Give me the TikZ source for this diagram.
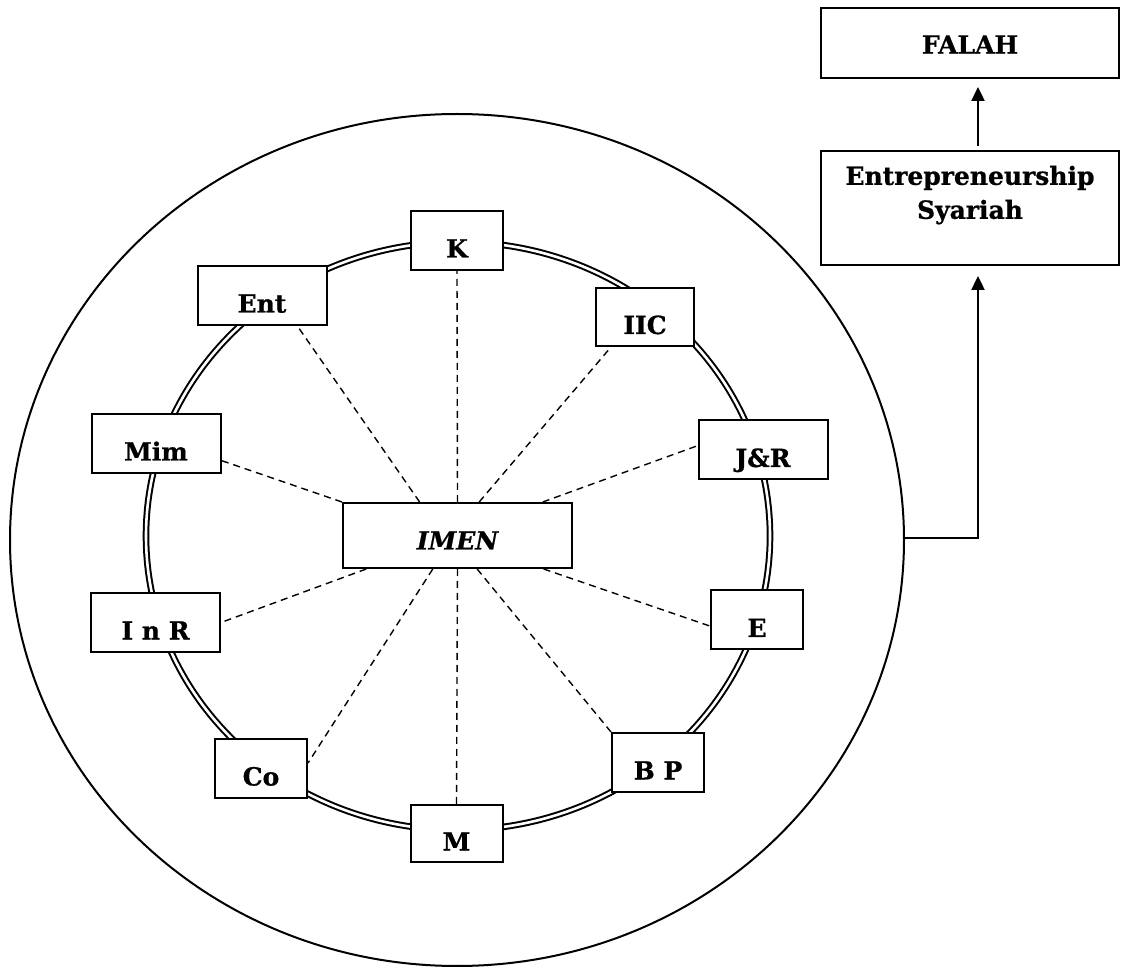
\documentclass[tikz,border=0pt]{standalone}
\usepackage{fontspec}
\setmainfont{DejaVu Serif}[BoldFeatures={FakeBold=0.8},BoldItalicFeatures={FakeBold=0.8}]
\usetikzlibrary{arrows.meta,calc}

% raise a block of text without changing the space it takes
\newcommand{\liftby}[2]{\raisebox{#1}[\height][\depth]{#2}}

\begin{document}
\begin{tikzpicture}[x=0.5pt,y=-0.5pt,
  labelfont/.style={font=\bfseries\fontsize{12.5}{17}\selectfont},
  tag/.style={draw,line width=1pt,fill=white,inner sep=0pt,labelfont,
    text height=17pt,text depth=0pt},
  smalltag/.style={tag,minimum width=46pt,minimum height=29.5pt},
  widetag/.style={tag,minimum width=64.5pt,minimum height=29.5pt},
  ray/.style={line width=0.7pt,dash pattern=on 3.5pt off 2.5pt},
  flow/.style={line width=1.2pt,-{Triangle[length=7pt,width=6.5pt]}},
  ring/.style={double,line width=1pt,double distance=1.3pt}]

\useasboundingbox (0,0) rectangle (1121,968);

% outer boundary and the double ring
\draw[line width=1pt] (457,540) ellipse [x radius=223.5pt, y radius=213pt];
\draw[ring] (458,536) ellipse [x radius=156pt, y radius=147pt];

% centre
\node[tag,minimum width=114.5pt,minimum height=32.5pt,text height=14pt,
  font=\bfseries\itshape\fontsize{12.5}{17}\selectfont] (imen) at (457.5,535.5) {IMEN};

% elements on the ring
\node[smalltag] (K) at (457,240.5) {K};
\node[widetag] (ent) at (262,295.5) {Ent};
\node[tag,minimum width=49pt,minimum height=29pt] (iic) at (645,317) {IIC};
\node[widetag] (mim) at (156,443.5) {Mim};
\node[widetag] (jr) at (763,450) {J\&R};
\node[widetag] (inr) at (155.5,622.5) {I n R};
\node[smalltag] (E) at (757,620) {E};
\node[smalltag] (co) at (261,768.5) {Co};
\node[smalltag] (bp) at (658,762.5) {B P};
\node[smalltag,minimum height=28.5pt] (M) at (456.5,833.5) {M};

% dashed links from the centre
\draw[ray] (imen.north) -- (K.south);
\draw[ray] ($(imen.north west)!0.336!(imen.north east)$) -- ($(ent.south west)!0.77!(ent.south east)$);
\draw[ray] ($(imen.north west)!0.594!(imen.north east)$) -- ($(iic.south west)!0.16!(iic.south east)$);
\draw[ray] (imen.north west) -- ($(mim.north east)!0.78!(mim.south east)$);
\draw[ray] ($(imen.north west)!0.869!(imen.north east)$) -- ($(jr.north west)!0.43!(jr.south west)$);
\draw[ray] ($(imen.south west)!0.105!(imen.south east)$) -- (inr.east);
\draw[ray] ($(imen.south west)!0.873!(imen.south east)$) -- ($(E.north west)!0.6!(E.south west)$);
\draw[ray] ($(imen.south west)!0.393!(imen.south east)$) -- ($(co.north east)!0.41!(co.south east)$);
\draw[ray] (imen.south) -- (M.north);
\draw[ray] ($(imen.south west)!0.585!(imen.south east)$) -- (bp.north west);

% outcome chain
\node[tag,minimum width=149pt,minimum height=57pt,text height=0pt] (es) at (970,208)
  {\liftby{3.5pt}{\begin{tabular}{@{}c@{}}Entrepreneurship\\Syariah\end{tabular}}};
\node[tag,minimum width=149pt,minimum height=35pt,text height=10.6pt] (falah) at (970,43) {FALAH};

\coordinate (exit) at (904,538);
\coordinate (bend) at (978,538);
\draw[flow,shorten >=5pt] (exit) -- (bend) -- (bend |- es.south);
\draw[flow,shorten <=2pt,shorten >=4pt] ([xshift=4pt]es.north) -- ([xshift=4pt]falah.south);

\end{tikzpicture}
\end{document}
